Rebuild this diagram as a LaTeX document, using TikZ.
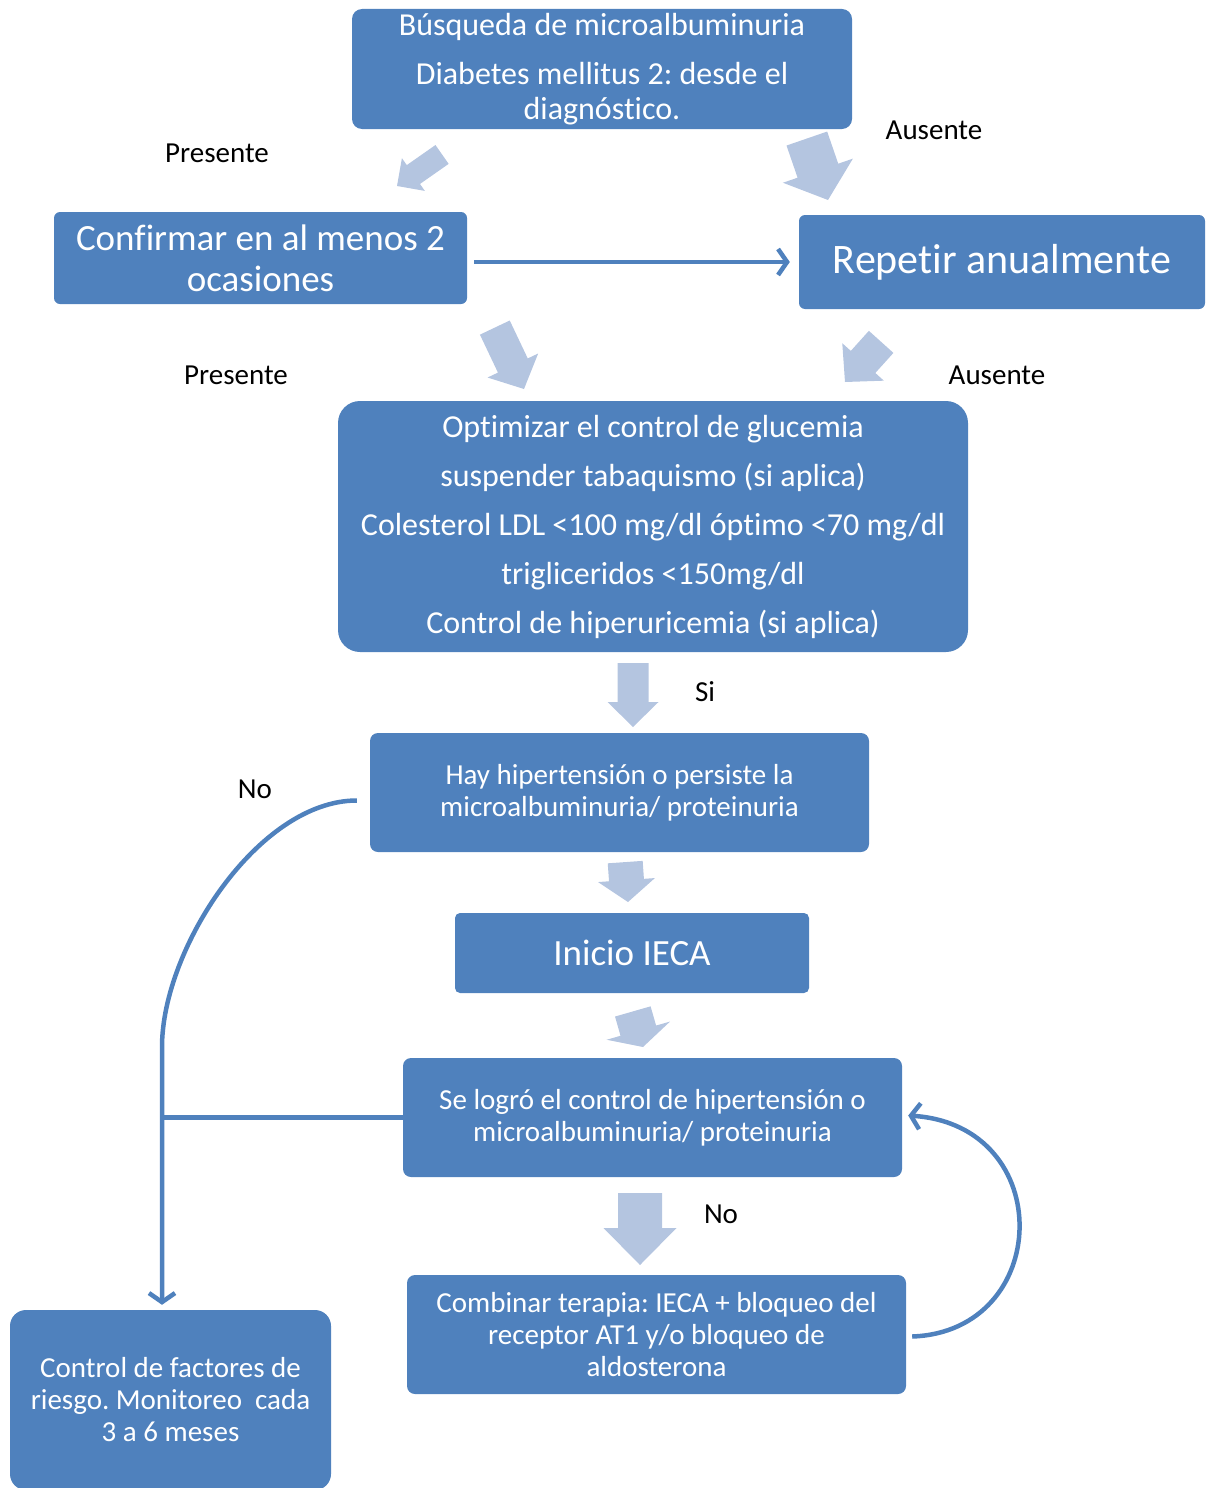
\documentclass[tikz,border=0pt]{standalone}
\usepackage{fontspec}
\setmainfont{Carlito}[Ligatures={NoCommon}]
\usepackage{xcolor}
\usepackage{tikz}
\usetikzlibrary{arrows.meta}
\frenchspacing

\definecolor{boxblue}{RGB}{79,129,189}
\definecolor{arrowblue}{RGB}{180,197,224}

\tikzset{
  box/.style={fill=boxblue, text=white, align=center, inner sep=0pt},
  lbl/.style={text=black, inner sep=0pt, font=\fontsize{29}{32}\selectfont},
  conn/.style={draw=boxblue, line width=4.5pt, -{Straight Barb[length=9pt,width=26pt]}},
  plainline/.style={draw=boxblue, line width=4.5pt},
  blockarrow/.style={fill=arrowblue}
}

% tip x, tip y, angle, length, shaft width, head width, head length
\newcommand{\blockarr}[7]{%
  \fill[blockarrow, shift={(#1,#2)}, rotate=#3]
    (0,0) -- (-#7,#6/2) -- (-#7,#5/2) -- (-#4,#5/2)
    -- (-#4,-#5/2) -- (-#7,-#5/2) -- (-#7,-#6/2) -- cycle;}

\begin{document}
\begin{tikzpicture}[x=1pt,y=1pt]
\useasboundingbox (0,0) rectangle (1212,-1488);

% block arrows
\blockarr{397}{-186}{215}{55}{23}{40}{20}
\blockarr{828}{-200}{-71}{65}{43}{74}{31}
\blockarr{524}{-389}{-64.6}{68}{33}{56}{26}
\blockarr{845}{-382}{-132}{54}{33}{56}{27}
\blockarr{633}{-727}{-90}{64}{31}{51}{25}
\blockarr{628}{-902}{-86}{40}{35}{57}{22}
\blockarr{643}{-1047}{-74}{37}{37}{66}{17}
\blockarr{640}{-1265}{-90}{72}{44}{73}{37}

% boxes
\node[box, minimum width=500, minimum height=120, rounded corners=10,
    font=\fontsize{32}{35}\selectfont] at (602,-69) (busqueda)
    {B\'usqueda de microalbuminuria\\[14pt]Diabetes mellitus 2: desde el\\diagn\'ostico.};
\node[box, minimum width=413, minimum height=92, rounded corners=6,
    font=\fontsize{37}{41}\selectfont] at (260.5,-258) (confirmar)
    {Confirmar en al menos 2\\ocasiones};
\node[box, minimum width=406, minimum height=94, rounded corners=6,
    font=\fontsize{42}{46}\selectfont] at (1002,-262) (repetir)
    {Repetir anualmente};
\node[box, minimum width=630, minimum height=251, rounded corners=22,
    font=\fontsize{32}{49}\selectfont] at (653,-526.5) (optimizar)
    {Optimizar el control de glucemia\\suspender tabaquismo (si aplica)\\
     Colesterol LDL <100 mg/dl \'optimo <70 mg/dl\\trigliceridos <150mg/dl\\
     Control de hiperuricemia (si aplica)};
\node[box, minimum width=499, minimum height=119, rounded corners=8,
    font=\fontsize{29}{32}\selectfont] at (619.5,-792.5) (hayhta)
    {Hay hipertensi\'on o persiste la\\microalbuminuria/ proteinuria};
\node[box, minimum width=354, minimum height=80, rounded corners=5,
    font=\fontsize{37}{41}\selectfont] at (632,-953) (ieca)
    {Inicio IECA};
\node[box, minimum width=499, minimum height=119, rounded corners=8,
    font=\fontsize{29}{32}\selectfont] at (652.5,-1117.5) (controlhta)
    {Se logr\'o el control de hipertensi\'on o\\microalbuminuria/ proteinuria};
\node[box, minimum width=499, minimum height=119, rounded corners=8,
    font=\fontsize{29}{32}\selectfont] at (656.5,-1334.5) (combinar)
    {Combinar terapia: IECA + bloqueo del\\receptor AT1 y/o bloqueo de\\aldosterona};
\node[box, minimum width=321, minimum height=180, rounded corners=16,
    font=\fontsize{29}{32}\selectfont] at (170.5,-1400) (factores)
    {Control de factores de\\riesgo. Monitoreo~ cada\\3 a 6 meses};

% labels
\node[lbl] at (217,-153) (presente1) {Presente};
\node[lbl] at (934,-130) (ausente1) {Ausente};
\node[lbl] at (236,-375) (presente2) {Presente};
\node[lbl] at (997,-375) (ausente2) {Ausente};
\node[lbl] at (705,-692) (si) {Si};
\node[lbl] at (255,-789) (no1) {No};
\node[lbl] at (721,-1214) (no2) {No};

% connectors
\draw[conn, shorten <=7pt, shorten >=9pt] (confirmar.east |- repetir.west) -- (repetir.west);
\coordinate (bend) at (162,-1047);
\draw[conn, shorten >=5pt] ([xshift=-13pt,yshift=-8pt]hayhta.west)
    to[out=180, in=90, looseness=0.8] (bend) -- (bend |- factores.north);
\draw[plainline] (controlhta.west) -- (bend |- controlhta.west);
\draw[conn] ([xshift=6pt,yshift=-2pt]combinar.east)
    .. controls +(140,5) and +(150,-10) .. ([xshift=6pt,yshift=2pt]controlhta.east);
\end{tikzpicture}
\end{document}
